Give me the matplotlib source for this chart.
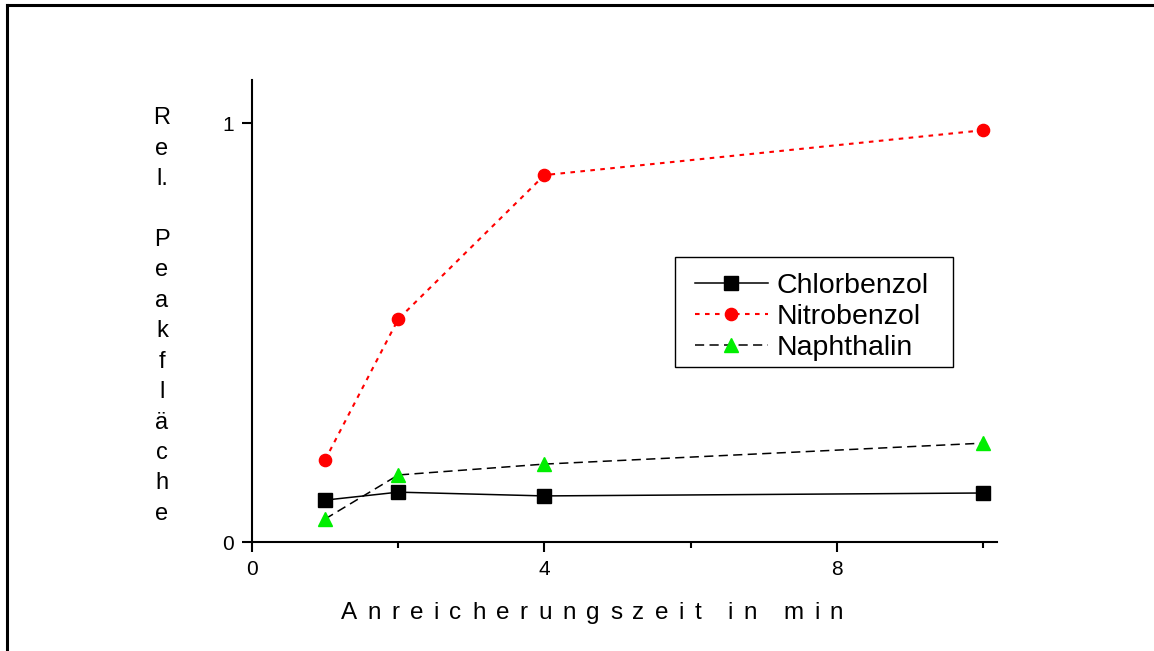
import matplotlib
matplotlib.use("Agg")
import matplotlib.pyplot as plt
from matplotlib.lines import Line2D
from matplotlib.patches import Rectangle

plt.rcParams['font.family'] = ['Liberation Sans', 'DejaVu Sans']

zeit = [1, 2, 4, 10]
chlorbenzol = [0.100, 0.119, 0.110, 0.117]
nitrobenzol = [0.196, 0.532, 0.876, 0.983]
naphthalin = [0.055, 0.160, 0.186, 0.236]
x_major = [0, 4, 8]
x_minor = [2, 6, 10]
y_ticks = [0, 1]
x_title = 'Anreicherungszeit in min'
y_title = 'Rel. Peakfläche'

W, H = 1154, 651
fig = plt.figure(figsize=(W/100, H/100), dpi=100)
ax = fig.add_axes([252/W, 1-542/H, (997-252)/W, (542-80)/H])

ax.plot(zeit, chlorbenzol, color='black', lw=1.1, ls='-', marker='s', ms=9.4,
        mfc='black', mec='black', label='Chlorbenzol')
ax.plot(zeit, nitrobenzol, color='red', lw=1.5, ls=(0, (2.2, 2.6)), marker='o', ms=8.8,
        mfc='red', mec='red', label='Nitrobenzol')
ax.plot(zeit, naphthalin, color='black', lw=1.1, ls=(0, (6, 3.5)), marker='^', ms=9.5,
        mfc='#00ee00', mec='#00ee00', label='Naphthalin')

ax.set_xlim(0, 10.19)
ax.set_ylim(0, 1.103)
ax.set_xticks(x_major)
ax.set_xticks(x_minor, minor=True)
ax.set_yticks(y_ticks)
ax.set_xticklabels([str(v) for v in x_major])
ax.set_yticklabels([str(v) for v in y_ticks])
for s in ['top', 'right']:
    ax.spines[s].set_visible(False)
for s in ['left', 'bottom']:
    ax.spines[s].set_linewidth(1.5)
ax.tick_params(axis='both', which='major', direction='out', length=7, width=1.5,
               labelsize=15, pad=6)
ax.tick_params(axis='x', which='minor', direction='out', length=4, width=1.5)

# x title with letter spacing (placed character by character)
fs_title = 17.5
fig.canvas.draw()
renderer = fig.canvas.get_renderer()
widths = []
for ch in x_title:
    if ch == ' ':
        widths.append(None)
        continue
    t = fig.text(0, 0, ch, fontsize=fs_title)
    widths.append(t.get_window_extent(renderer).width)
    t.remove()
letter_gap = 10.4
word_extra = 16.0
x = 341.0
for ch, w in zip(x_title, widths):
    if w is None:
        x += word_extra
        continue
    fig.text(x/W, 1-619/H, ch, fontsize=fs_title, ha='left', va='baseline')
    x += w + letter_gap

# y title stacked vertically
stack = '\n'.join(['' if c == ' ' else c for c in y_title.replace('l.', '\x00')]).replace('\x00', 'l.')
fig.text(162/W, 1-316/H, stack, ha='center', va='center', fontsize=17,
         linespacing=1.497, multialignment='center')

leg = fig.legend(*ax.get_legend_handles_labels(), loc='upper left',
                 bbox_to_anchor=(695/W, 1-273/H), bbox_transform=fig.transFigure,
                 fontsize=20.5, frameon=False,
                 handlelength=2.56, handletextpad=0.32, borderpad=0, labelspacing=0.18,
                 borderaxespad=0)
fig.add_artist(Rectangle((675/W, 1-367/H), (953-675)/W, (367-257)/H,
                         transform=fig.transFigure, fill=False, edgecolor='black',
                         lw=1.0, zorder=1))

fig.add_artist(Line2D([7/W, 7/W], [0, 1-5/H], color='black', lw=2.2,
                      transform=fig.transFigure, solid_capstyle='projecting'))
fig.add_artist(Line2D([7/W, 1], [1-5/H, 1-5/H], color='black', lw=2.2,
                      transform=fig.transFigure, solid_capstyle='projecting'))

fig.savefig('out.png', dpi=100)
